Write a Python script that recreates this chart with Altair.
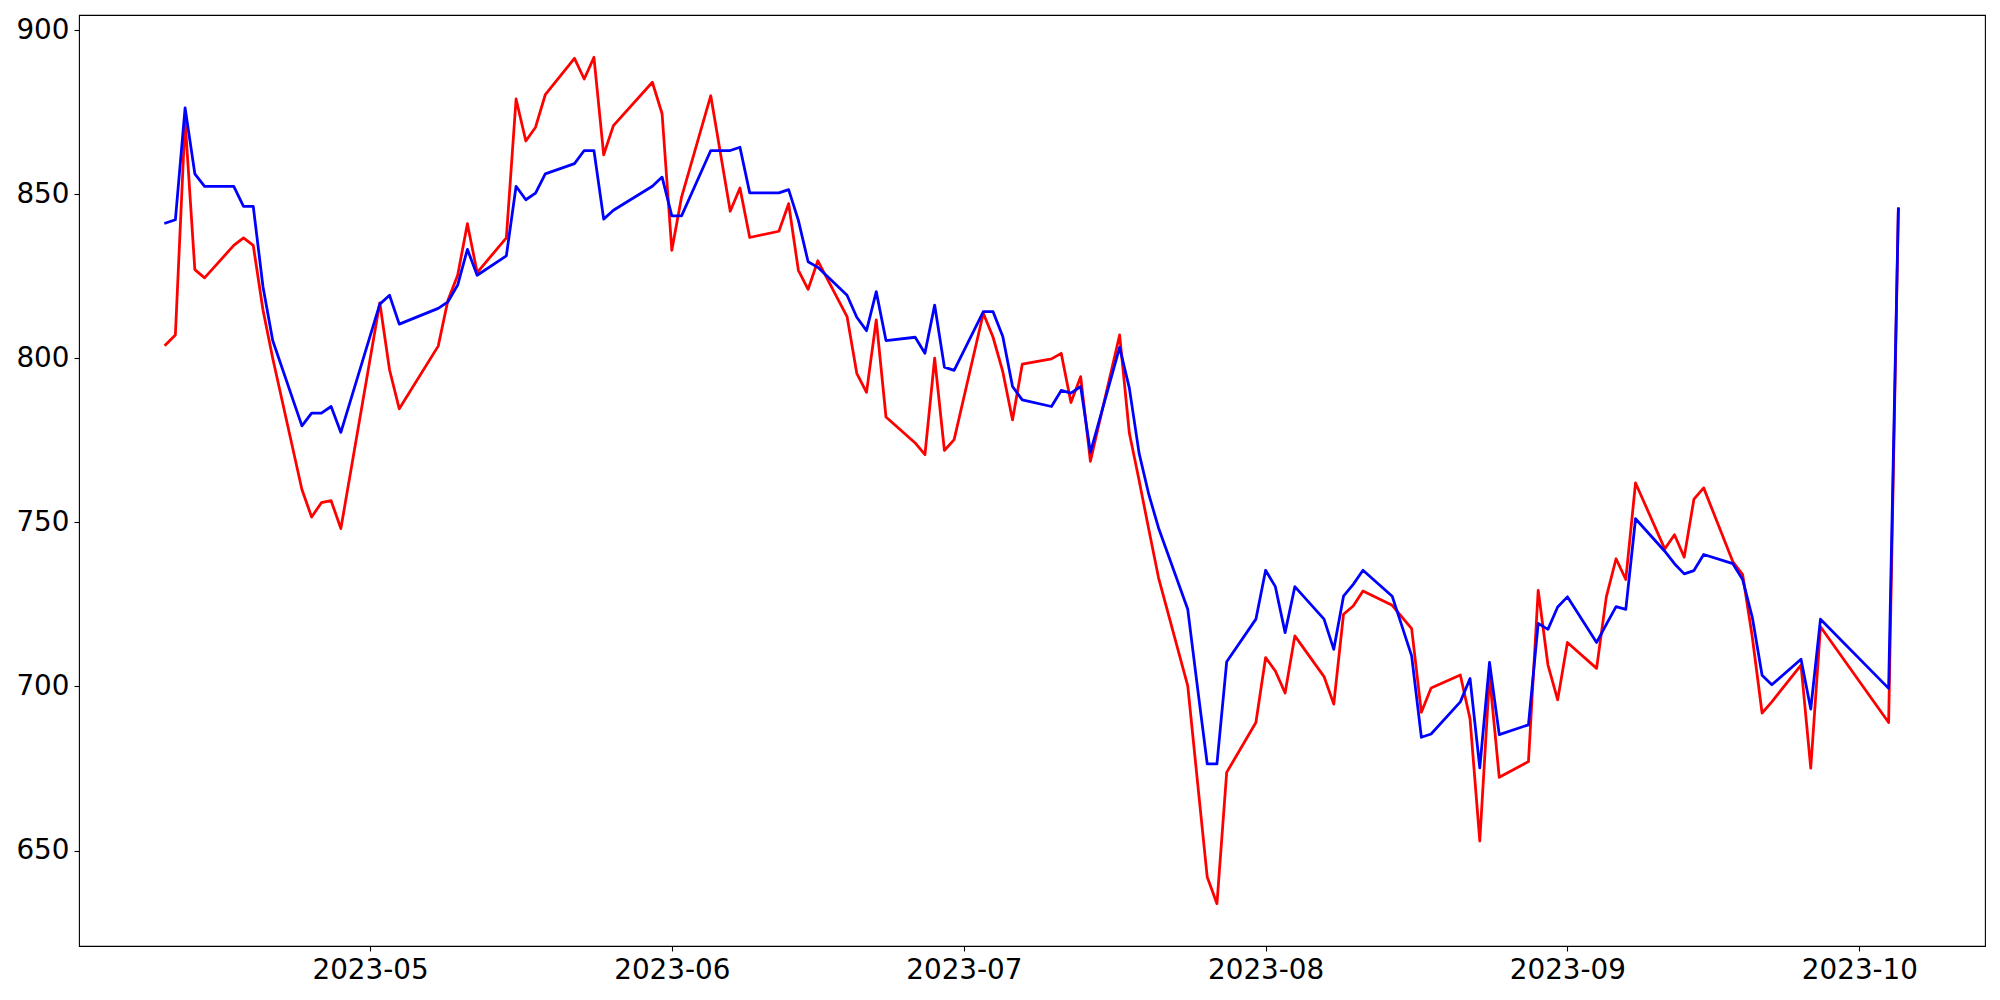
import altair as alt
import pandas as pd

dates = [
    "2023-04-10", "2023-04-11", "2023-04-12", "2023-04-13", "2023-04-14",
    "2023-04-17", "2023-04-18", "2023-04-19", "2023-04-20", "2023-04-21",
    "2023-04-24", "2023-04-25", "2023-04-26", "2023-04-27", "2023-04-28",
    "2023-05-02", "2023-05-03", "2023-05-04",
    "2023-05-08", "2023-05-09", "2023-05-10", "2023-05-11", "2023-05-12",
    "2023-05-15", "2023-05-16", "2023-05-17", "2023-05-18", "2023-05-19",
    "2023-05-22", "2023-05-23", "2023-05-24", "2023-05-25", "2023-05-26",
    "2023-05-30", "2023-05-31", "2023-06-01", "2023-06-02",
    "2023-06-05", "2023-06-07", "2023-06-08", "2023-06-09",
    "2023-06-12", "2023-06-13", "2023-06-14", "2023-06-15", "2023-06-16",
    "2023-06-19", "2023-06-20", "2023-06-21", "2023-06-22", "2023-06-23",
    "2023-06-26", "2023-06-27", "2023-06-28", "2023-06-29", "2023-06-30",
    "2023-07-03", "2023-07-04", "2023-07-05", "2023-07-06", "2023-07-07",
    "2023-07-10", "2023-07-11", "2023-07-12", "2023-07-13", "2023-07-14",
    "2023-07-17", "2023-07-18", "2023-07-19", "2023-07-20", "2023-07-21",
    "2023-07-24", "2023-07-25", "2023-07-26", "2023-07-27", "2023-07-28",
    "2023-07-31", "2023-08-01", "2023-08-02", "2023-08-03", "2023-08-04",
    "2023-08-07", "2023-08-08", "2023-08-09", "2023-08-10", "2023-08-11",
    "2023-08-14", "2023-08-16", "2023-08-17", "2023-08-18",
    "2023-08-21", "2023-08-22", "2023-08-23", "2023-08-24", "2023-08-25",
    "2023-08-28", "2023-08-29", "2023-08-30", "2023-08-31", "2023-09-01",
    "2023-09-04", "2023-09-05", "2023-09-06", "2023-09-07", "2023-09-08",
    "2023-09-11", "2023-09-12", "2023-09-13", "2023-09-14", "2023-09-15",
    "2023-09-18", "2023-09-19", "2023-09-20", "2023-09-21", "2023-09-22",
    "2023-09-25", "2023-09-26", "2023-09-27",
    "2023-10-04", "2023-10-05",
]

red_values = [
    804.1, 807.1, 872.5, 827.0, 824.5,
    834.4, 836.7, 834.4, 814.7, 800.0,
    760.0, 751.6, 756.0, 756.6, 748.1,
    816.9, 796.5, 784.6,
    803.7, 817.7, 825.3, 841.0, 826.1,
    836.7, 879.0, 866.2, 870.4, 880.3,
    891.4, 885.1, 891.7, 862.0, 870.9,
    884.1, 874.5, 832.9, 849.1,
    880.0, 844.8, 851.9, 836.8,
    838.7, 847.1, 826.8, 821.0, 829.7,
    812.7, 795.4, 789.6, 811.7, 782.1,
    774.2, 770.6, 800.0, 771.9, 775.2,
    813.7, 806.4, 795.9, 781.2, 798.2,
    799.8, 801.5, 786.5, 794.4, 768.6,
    807.1, 777.2, 762.8, 747.8, 733.1,
    700.2, 671.0, 641.9, 633.8, 673.8,
    689.0, 708.8, 704.7, 698.0, 715.4,
    703.0, 694.6, 722.0, 724.5, 729.1,
    724.7, 717.6, 692.1, 699.5,
    703.5, 690.1, 652.9, 703.2, 672.3,
    677.1, 729.3, 706.6, 695.9, 713.4,
    705.5, 727.3, 738.9, 732.6, 762.0,
    741.9, 746.2, 739.4, 757.1, 760.5,
    738.0, 734.1, 714.9, 691.9, 695.3,
    706.5, 675.1, 718.2,
    689.0, 845.5,
]

blue_values = [
    841.2, 842.2, 876.3, 856.2, 852.4,
    852.4, 846.3, 846.3, 821.8, 805.4,
    779.4, 783.3, 783.3, 785.3, 777.4,
    816.5, 819.2, 810.4,
    815.2, 817.2, 822.3, 833.2, 825.3,
    831.2, 852.4, 848.3, 850.3, 856.2,
    859.3, 863.3, 863.3, 842.4, 845.1,
    852.4, 855.2, 843.4, 843.4,
    863.3, 863.3, 864.3, 850.4,
    850.4, 851.4, 842.0, 829.4, 827.7,
    819.2, 812.5, 808.4, 820.3, 805.4,
    806.4, 801.5, 816.2, 797.3, 796.3,
    814.2, 814.2, 806.6, 791.4, 787.3,
    785.3, 790.2, 789.4, 791.4, 771.3,
    803.3, 790.9, 771.1, 758.5, 748.3,
    723.5, 699.7, 676.4, 676.4, 707.5,
    720.5, 735.4, 730.4, 716.4, 730.4,
    720.5, 711.3, 727.5, 731.1, 735.4,
    727.5, 709.3, 684.5, 685.5,
    695.3, 702.4, 675.2, 707.3, 685.3,
    688.3, 719.2, 717.4, 724.2, 727.3,
    713.4, 718.9, 724.3, 723.5, 751.1,
    741.2, 737.4, 734.3, 735.3, 740.2,
    737.4, 732.6, 721.0, 703.4, 700.5,
    708.3, 693.1, 720.5,
    699.4, 845.5,
]

y_ticks = [650, 700, 750, 800, 850, 900]
x_tick_dates = ["2023-05-01", "2023-06-01", "2023-07-01", "2023-08-01", "2023-09-01", "2023-10-01"]

df = pd.DataFrame({"date": dates, "red": red_values, "blue": blue_values})


def ms(s):
    return int(pd.Timestamp(s).value // 10**6)


# matplotlib-like 5% margins
t0, t1 = ms(dates[0]), ms(dates[-1])
tpad = 0.05 * (t1 - t0)
x_domain = [t0 - tpad, t1 + tpad]
vals = red_values + blue_values
lo, hi = min(vals), max(vals)
ypad = 0.05 * (hi - lo)
y_domain = [lo - ypad, hi + ypad]

x_enc = alt.X(
    "date:T",
    scale=alt.Scale(type="utc", domain=x_domain, nice=False),
    axis=alt.Axis(values=[ms(d) for d in x_tick_dates],
                  labelExpr="utcFormat(datum.value, '%Y-%m')",
                  title=None, labelAngle=0),
)


def y_enc(field):
    return alt.Y(
        f"{field}:Q",
        scale=alt.Scale(domain=y_domain, nice=False, zero=False),
        axis=alt.Axis(values=y_ticks, title=None, format="d"),
    )


base = alt.Chart(df)
red_line = base.mark_line(color="#ff0000", strokeWidth=2.78, strokeJoin="round", strokeCap="square", clip=True).encode(
    x=x_enc, y=y_enc("red")
)
blue_line = base.mark_line(color="#0000ff", strokeWidth=2.78, strokeJoin="round", strokeCap="square", clip=True).encode(
    x=x_enc, y=y_enc("blue")
)

chart = (
    alt.layer(red_line, blue_line)
    .properties(
        width=1906,
        height=931,
        autosize=alt.AutoSizeParams(type="none"),
        padding={"left": 71, "top": 7, "right": 7, "bottom": 46},
        background="white",
    )
    .configure_view(stroke="black", strokeWidth=1.1)
    .configure_axis(
        labelFont="DejaVu Sans",
        labelFontSize=27.8,
        labelColor="black",
        tickColor="black",
        tickSize=5,
        tickWidth=1.1,
        domain=False,
        grid=False,
        labelPadding=5,
    )
)

chart.save("out.html", embed_options={"renderer": "svg", "actions": False})
